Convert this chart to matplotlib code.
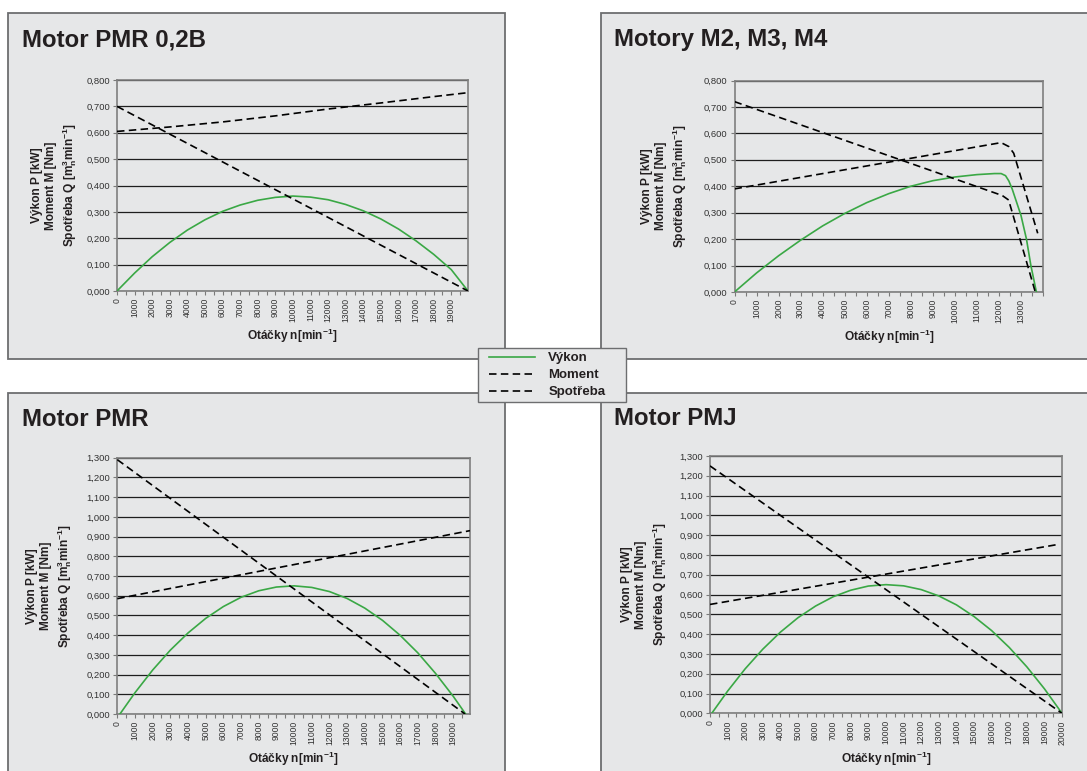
import numpy as np
import matplotlib.pyplot as plt
from matplotlib.patches import Rectangle
from matplotlib.ticker import FixedLocator, MultipleLocator

plt.rcParams['font.family'] = ['Liberation Sans', 'DejaVu Sans']
plt.rcParams['mathtext.fontset'] = 'custom'
plt.rcParams['mathtext.rm'] = 'Liberation Sans:bold'
plt.rcParams['mathtext.it'] = 'Liberation Sans:bold'
plt.rcParams['mathtext.bf'] = 'Liberation Sans:bold'

W, H = 1087, 771
PANEL = '#e6e7e8'
EDGE = '#6d6e70'
GREEN = '#3aa845'
TXT = '#231f20'

# ---------------- data ----------------
# Motor PMR 0,2B
n_pmr02 = [0, 1000, 2000, 3000, 4000, 5000, 6000, 7000, 8000, 9000, 10000,
           11000, 12000, 13000, 14000, 15000, 16000, 17000, 18000, 19000, 19950]
p_pmr02 = [0.0, 0.068, 0.130, 0.184, 0.231, 0.270, 0.302, 0.326, 0.344, 0.355, 0.360,
           0.356, 0.346, 0.328, 0.304, 0.273, 0.235, 0.190, 0.139, 0.081, 0.0]
nm_pmr02 = [0, 19950]
m_pmr02 = [0.70, 0.0]
nq_pmr02 = [0, 3000, 6000, 9000, 12000, 15000, 18000, 19950]
q_pmr02 = [0.605, 0.622, 0.641, 0.664, 0.690, 0.713, 0.737, 0.752]

# Motory M2, M3, M4
n_m234 = [0, 1000, 2000, 3000, 4000, 5000, 6000, 7000, 8000, 9000, 10000, 11000,
          11800, 12100, 12300, 12450, 12600, 12800, 13000, 13250, 13450, 13700]
p_m234 = [0.0, 0.072, 0.137, 0.196, 0.250, 0.297, 0.338, 0.372, 0.400, 0.421, 0.435, 0.444,
          0.448, 0.448, 0.440, 0.420, 0.390, 0.340, 0.290, 0.200, 0.100, 0.0]
nm_m234 = [0, 12150, 12440, 13650]
m_m234 = [0.72, 0.365, 0.348, 0.0]
nq_m234 = [0, 12100, 12450, 12670, 13760]
q_m234 = [0.39, 0.565, 0.550, 0.525, 0.222]

# Motor PMR
n_pmr = [150, 1000, 2000, 3000, 4000, 5000, 6000, 7000, 8000, 9000, 10000,
         11000, 12000, 13000, 14000, 15000, 16000, 17000, 18000, 19000, 19700]
p_pmr = [0.0, 0.108, 0.223, 0.324, 0.411, 0.485, 0.545, 0.592, 0.625, 0.644, 0.650,
         0.642, 0.621, 0.586, 0.537, 0.475, 0.399, 0.310, 0.206, 0.090, 0.0]
nm_pmr = [0, 19670]
m_pmr = [1.29, 0.0]
nq_pmr = [0, 19950]
q_pmr = [0.585, 0.930]

# Motor PMJ
n_pmj = [100, 1000, 2000, 3000, 4000, 5000, 6000, 7000, 8000, 9000, 10000,
         11000, 12000, 13000, 14000, 15000, 16000, 17000, 18000, 19000, 20000]
p_pmj = [0.0, 0.112, 0.225, 0.324, 0.410, 0.483, 0.542, 0.589, 0.622, 0.643, 0.650,
         0.644, 0.625, 0.593, 0.548, 0.489, 0.418, 0.333, 0.235, 0.124, 0.0]
nm_pmj = [0, 20000]
m_pmj = [1.25, 0.0]
nq_pmj = [0, 19700]
q_pmj = [0.55, 0.852]

titles = ['Motor PMR 0,2B', 'Motory M2, M3, M4', 'Motor PMR', 'Motor PMJ']
legend_labels = ['Výkon', 'Moment', 'Spotřeba']
ylabel = 'Výkon P [kW]\nMoment M [Nm]\nSpotřeba Q [m$_n^3$min$^{-1}$]'
xlabel = 'Otáčky n[min$^{-1}$]'


def fx(x):
    return x / W


def fy(y):
    return 1 - y / H


fig = plt.figure(figsize=(W / 100, H / 100), dpi=100)
fig.patch.set_facecolor('white')

# gray panels
for x0, y0, x1, y1 in [(8, 13, 505, 359), (601, 13, 1100, 359),
                       (8, 393, 505, 790), (601, 393, 1100, 790)]:
    fig.patches.append(Rectangle((fx(x0), fy(y1)), (x1 - x0) / W, (y1 - y0) / H,
                                 transform=fig.transFigure, facecolor=PANEL,
                                 edgecolor=EDGE, lw=1.3, zorder=-5))


def panel(box, title_xy, title, n, p, nm, m, nq, q, xmax, xlab_max, ytop, ylab_x, xlab_y):
    l, t, r, b = box
    ax = fig.add_axes([fx(l), fy(b), (r - l) / W, (b - t) / H])
    ax.set_facecolor(PANEL)
    lp, = ax.plot(n, p, color=GREEN, lw=1.2, zorder=3)
    lm, = ax.plot(nm, m, color='black', lw=1.2, dashes=(4.5, 2.6), zorder=3)
    lq, = ax.plot(nq, q, color='black', lw=1.2, dashes=(4.5, 2.6), zorder=3)
    ax.set_xlim(0, xmax)
    ax.set_ylim(0, ytop)
    yt = np.round(np.arange(0, ytop + 0.01, 0.1), 1)
    ax.set_yticks(yt)
    ax.set_yticklabels([f'{v:.3f}'.replace('.', ',') for v in yt],
                       fontsize=6.8, color='#333333')
    xt = list(range(0, xlab_max + 1, 1000))
    ax.xaxis.set_major_locator(FixedLocator(xt))
    ax.xaxis.set_minor_locator(MultipleLocator(500))
    ax.set_xticklabels([str(v) for v in xt], rotation=90, fontsize=6.2, color='#333333')
    ax.tick_params(axis='both', which='both', direction='out', length=3,
                   width=0.8, color='#7a7a7a', pad=2)
    for s in ax.spines.values():
        s.set_color('#7f7f7f')
        s.set_linewidth(1.2)
    ax.yaxis.grid(True, color='#1e1e1e', lw=0.9)
    ax.set_axisbelow(True)
    fig.text(fx(title_xy[0]), fy(title_xy[1]), title, fontsize=17.3, fontweight='bold',
             color=TXT, ha='left', va='baseline')
    fig.text(fx(ylab_x), fy((t + b) / 2), ylabel, rotation=90, ha='center', va='center',
             multialignment='center', fontsize=8.6, fontweight='bold', color=TXT,
             linespacing=1.28)
    fig.text(fx((l + r) / 2), fy(xlab_y), xlabel, ha='center', va='baseline',
             fontsize=8.6, fontweight='bold', color=TXT)
    return lp, lm, lq


handles = panel((117, 80, 468, 291), (22, 46), titles[0], n_pmr02, p_pmr02,
                nm_pmr02, m_pmr02, nq_pmr02, q_pmr02, 19950, 19000, 0.8, 55, 340)
panel((734.5, 80.5, 1043, 292), (614, 46), titles[1], n_m234, p_m234,
      nm_m234, m_m234, nq_m234, q_m234, 14000, 13000, 0.8, 665, 341)
panel((117.3, 457.7, 470, 714), (22, 426), titles[2], n_pmr, p_pmr,
      nm_pmr, m_pmr, nq_pmr, q_pmr, 19950, 19000, 1.3, 50, 763)
panel((710, 456, 1062, 713.3), (614, 425), titles[3], n_pmj, p_pmj,
      nm_pmj, m_pmj, nq_pmj, q_pmj, 20000, 20000, 1.3, 645, 763)

# legend box drawn at its place, legend entries on top
fig.patches.append(Rectangle((fx(478), fy(402)), 148 / W, 54 / H,
                             transform=fig.transFigure, facecolor=PANEL,
                             edgecolor=EDGE, lw=1.0, zorder=4))
leg = fig.legend(handles, legend_labels, loc='upper left',
                 bbox_to_anchor=(fx(485), fy(348)), frameon=False,
                 prop={'weight': 'bold', 'size': 9.5},
                 handlelength=3.5, handletextpad=1.0, labelspacing=0.36,
                 borderpad=0.3, borderaxespad=0)
leg.set_zorder(6)
for txt in leg.get_texts():
    txt.set_color(TXT)

fig.savefig('out.png', dpi=100)
